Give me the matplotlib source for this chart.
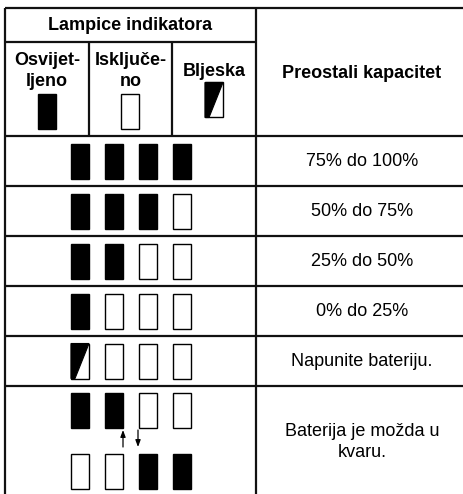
import matplotlib.pyplot as plt
from matplotlib.patches import Rectangle, Polygon

plt.rcParams['font.family'] = ['Liberation Sans', 'DejaVu Sans']

# tekst tablice
group_title = "Lampice indikatora"
legend_titles = ["Osvijet-\nljeno", "Isključe-\nno", "Bljeska"]
legend_states = ["on", "off", "flash"]
capacity_title = "Preostali kapacitet"
capacity_labels = ["75% do 100%", "50% do 75%", "25% do 50%", "0% do 25%",
                   "Napunite bateriju."]
fault_label = "Baterija je možda u\nkvaru."

# stanje lampica po retku
lamp_rows = [
    ["on", "on", "on", "on"],
    ["on", "on", "on", "off"],
    ["on", "on", "off", "off"],
    ["on", "off", "off", "off"],
    ["flash", "off", "off", "off"],
]
fault_rows = [
    ["on", "on", "off", "off"],
    ["off", "off", "on", "on"],
]

W, H = 464, 494
fig = plt.figure(figsize=(W / 100, H / 100), dpi=100)
ax = fig.add_axes([0, 0, 1, 1])
ax.set_xlim(0, W)
ax.set_ylim(H, 0)
ax.axis('off')

LC = '#111111'
LW = 1.6
FS = 13

# mreza
x_left, x_sep, x_right = 5, 256, 464
x_cols = [5, 89, 172, 256]
y_top, y_sub, y_head = 8, 42, 136
row_h = 50

def hline(y, x0, x1):
    ax.plot([x0, x1], [y, y], color=LC, lw=LW, solid_capstyle='butt')

def vline(x, y0, y1):
    ax.plot([x, x], [y0, y1], color=LC, lw=LW, solid_capstyle='butt')

hline(y_top, x_left, x_right)
hline(y_sub, x_left, x_sep)
hline(y_head, x_left, x_right)
for i in range(len(lamp_rows)):
    hline(y_head + (i + 1) * row_h, x_left, x_right)
vline(x_left, y_top, H)
vline(x_sep, y_top, H)
for x in x_cols[1:3]:
    vline(x, y_sub, y_head)

def lamp(xc, yc, state, w=18, h=35):
    x0, y0 = xc - w / 2, yc - h / 2
    if state == "on":
        ax.add_patch(Rectangle((x0, y0), w, h, fc='black', ec='black', lw=1))
    elif state == "off":
        ax.add_patch(Rectangle((x0, y0), w, h, fc='white', ec='black', lw=1))
    else:
        ax.add_patch(Rectangle((x0, y0), w, h, fc='white', ec='black', lw=1))
        ax.add_patch(Polygon([(x0, y0), (x0 + w, y0), (x0 + 4, y0 + h), (x0, y0 + h)],
                             closed=True, fc='black', ec='black', lw=0.8))

# zaglavlje
ax.text((x_left + x_sep) / 2, (y_top + y_sub) / 2 + 1, group_title,
        ha='center', va='center', fontsize=FS, fontweight='bold')
ax.text((x_sep + x_right) / 2 + 2, (y_top + y_head) / 2 + 1, capacity_title,
        ha='center', va='center', fontsize=FS, fontweight='bold')
for i, (t, s) in enumerate(zip(legend_titles, legend_states)):
    xc = (x_cols[i] + x_cols[i + 1]) / 2
    if s == "flash":
        ax.text(xc, 72, t, ha='center', va='center', fontsize=FS, fontweight='bold')
        lamp(xc, 100, s)
    else:
        ax.text(xc, 71, t, ha='center', va='center', fontsize=FS,
                fontweight='bold', linespacing=1.3, multialignment='center')
        lamp(xc, 111.5, s)

# retci
lamp_x = [80, 114, 148, 182]
for i, (states, label) in enumerate(zip(lamp_rows, capacity_labels)):
    yc = y_head + i * row_h + row_h / 2
    for xc, s in zip(lamp_x, states):
        lamp(xc, yc, s)
    ax.text((x_sep + x_right) / 2 + 2, yc, label, ha='center', va='center', fontsize=FS)

# zadnji redak (kvar)
for yc, states in zip([410, 471], fault_rows):
    for xc, s in zip(lamp_x, states):
        lamp(xc, yc, s)
arrow = dict(arrowstyle='-|>,head_length=0.4,head_width=0.15', color='black',
             lw=0.9, shrinkA=0, shrinkB=0)
ax.annotate('', xy=(123, 430), xytext=(123, 447), arrowprops=arrow)
ax.annotate('', xy=(138, 447), xytext=(138, 430), arrowprops=arrow)
ax.text((x_sep + x_right) / 2 + 2, 442, fault_label, ha='center', va='center',
        fontsize=FS, linespacing=1.25, multialignment='center')

fig.savefig('out.png', dpi=100)
